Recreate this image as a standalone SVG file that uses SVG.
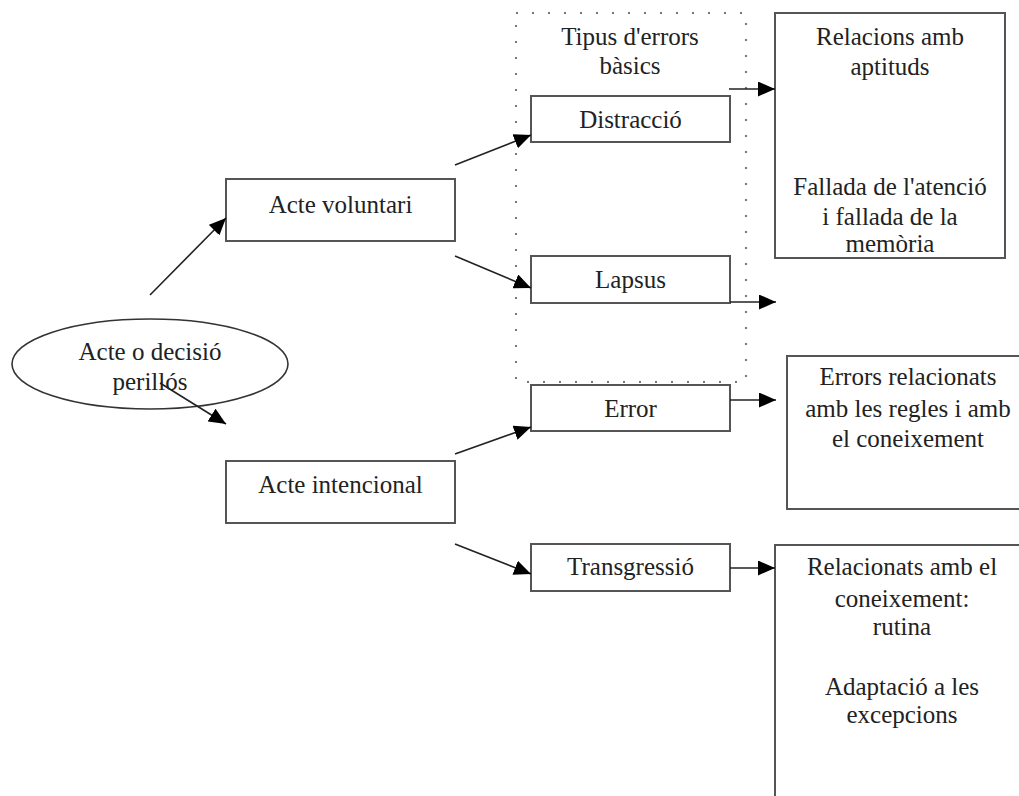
<svg xmlns="http://www.w3.org/2000/svg" width="1019" height="796" viewBox="0 0 1019 796">
<defs>
<marker id="ah" markerUnits="userSpaceOnUse" markerWidth="18" markerHeight="15" refX="17" refY="7.5" orient="auto">
<path d="M0,0 L17,7.5 L0,15 z" fill="#000"/>
</marker>
<style>
.box{fill:#fff;stroke:#555;stroke-width:2}
.t{font-family:"Liberation Serif","Times New Roman",serif;font-size:25px;fill:#222;text-anchor:middle}
.c{stroke:#222;stroke-width:1.6;fill:none;marker-end:url(#ah)}
</style>
</defs>
<rect width="1019" height="796" fill="#fff"/>
<g id="grupo">
<rect x="516" y="13" width="230" height="369" fill="none" stroke="#777" stroke-width="2" stroke-dasharray="2 14"/>
<text class="t" x="630" y="45">Tipus d'errors</text>
<text class="t" x="630" y="74">bàsics</text>
</g>
<g id="inici">
<ellipse cx="150" cy="364" rx="138" ry="45" fill="#fff" stroke="#333" stroke-width="1.6"/>
<text class="t" x="150" y="360">Acte o decisió</text>
<text class="t" x="150" y="390">perillós</text>
</g>
<g id="voluntari">
<rect class="box" x="226" y="179" width="229" height="62"/>
<text class="t" x="340.5" y="213">Acte voluntari</text>
</g>
<g id="intencional">
<rect class="box" x="226" y="461" width="229" height="62"/>
<text class="t" x="340.5" y="493">Acte intencional</text>
</g>
<g id="distraccio">
<rect class="box" x="531" y="96" width="199" height="46"/>
<text class="t" x="630.5" y="128">Distracció</text>
</g>
<g id="lapsus">
<rect class="box" x="531" y="256" width="199" height="47"/>
<text class="t" x="630.5" y="288">Lapsus</text>
</g>
<g id="error">
<rect class="box" x="531" y="385" width="199" height="46"/>
<text class="t" x="630.5" y="417">Error</text>
</g>
<g id="transgressio">
<rect class="box" x="531" y="544" width="199" height="47"/>
<text class="t" x="630.5" y="575">Transgressió</text>
</g>
<g id="aptituds">
<rect class="box" x="775" y="13" width="230" height="245"/>
<text class="t" x="890" y="45">Relacions amb</text>
<text class="t" x="890" y="75">aptituds</text>
<text class="t" x="890" y="195">Fallada de l'atenció</text>
<text class="t" x="890" y="225">i fallada de la</text>
<text class="t" x="890" y="252">memòria</text>
</g>
<g id="regles">
<rect class="box" x="787" y="356" width="240" height="153"/>
<text class="t" x="908" y="385">Errors relacionats</text>
<text class="t" x="908" y="417">amb les regles i amb</text>
<text class="t" x="908" y="447">el coneixement</text>
</g>
<g id="coneixement">
<rect class="box" x="775" y="545" width="252" height="260"/>
<text class="t" x="902" y="575">Relacionats amb el</text>
<text class="t" x="902" y="607">coneixement:</text>
<text class="t" x="902" y="635">rutina</text>
<text class="t" x="902" y="695">Adaptació a les</text>
<text class="t" x="902" y="723">excepcions</text>
</g>
<g id="connectors">
<line class="c" x1="150" y1="295" x2="226" y2="218"/>
<line class="c" x1="160" y1="383" x2="226" y2="424"/>
<line class="c" x1="455" y1="165" x2="531" y2="135"/>
<line class="c" x1="455" y1="256" x2="531" y2="288"/>
<line class="c" x1="455" y1="454" x2="531" y2="427"/>
<line class="c" x1="455" y1="544" x2="531" y2="574"/>
<line class="c" x1="729" y1="89" x2="775" y2="89"/>
<line class="c" x1="730" y1="302" x2="776" y2="302"/>
<line class="c" x1="730" y1="400" x2="776" y2="400"/>
<line class="c" x1="730" y1="568" x2="775" y2="568"/>
</g>
</svg>
